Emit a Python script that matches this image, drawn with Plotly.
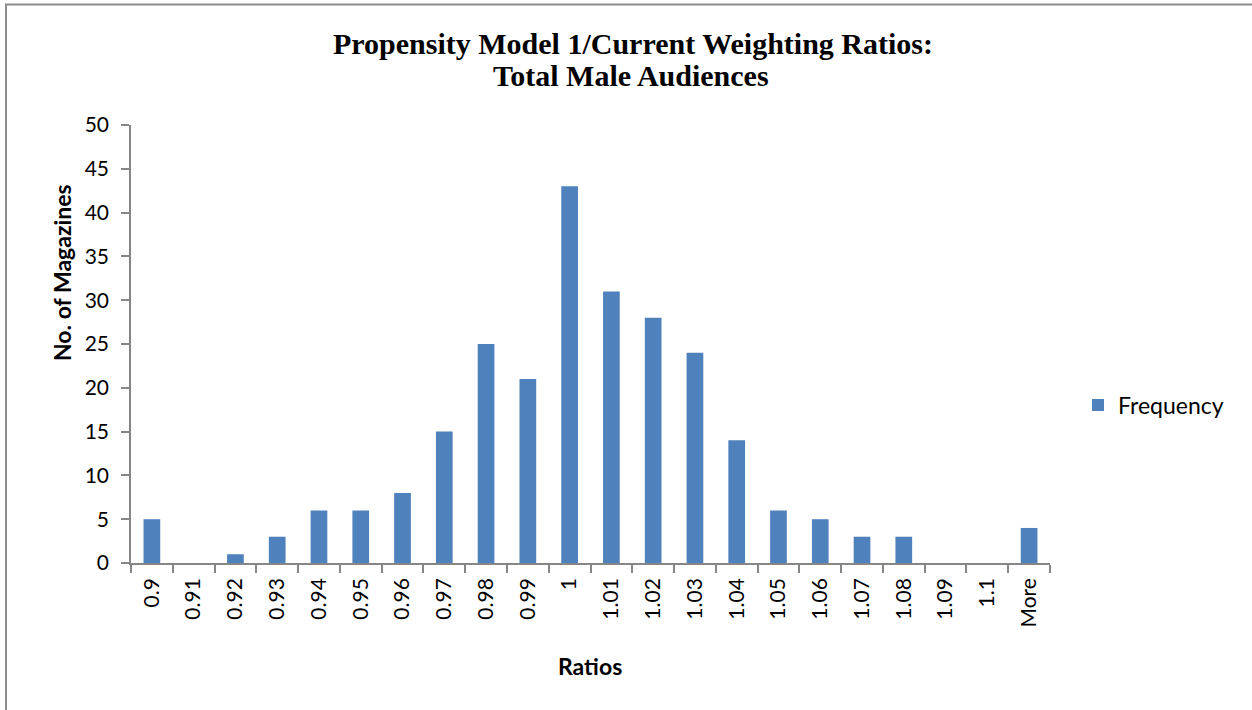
import plotly.graph_objects as go

categories = ["0.9", "0.91", "0.92", "0.93", "0.94", "0.95", "0.96", "0.97", "0.98", "0.99",
              "1", "1.01", "1.02", "1.03", "1.04", "1.05", "1.06", "1.07", "1.08", "1.09",
              "1.1", "More"]
frequency = [5, 0, 1, 3, 6, 6, 8, 15, 25, 21, 43, 31, 28, 24, 14, 6, 5, 3, 3, 0, 0, 4]
y_ticks = [0, 5, 10, 15, 20, 25, 30, 35, 40, 45, 50]

W, H = 1252, 710
# plot area in page pixels
PX0, PX1, PY0, PY1 = 131, 1050, 125, 563
L, T = PX0, PY0
R, B = W - PX1, H - PY1
pw, ph = W - L - R, H - T - B


def px_x(px):
    return (px - L) / pw


def px_y(py):
    return (H - B - py) / ph


SANS = "Lato, Carlito, 'Open Sans', sans-serif"
SERIF = "'Liberation Serif', 'Times New Roman', serif"
AXC = "#868686"

fig = go.Figure()
fig.add_trace(go.Bar(
    x=categories, y=frequency, name="Frequency",
    marker=dict(color="#4F81BD", line=dict(width=0)),
))

fig.update_layout(
    width=W, height=H,
    margin=dict(l=L, r=R, t=T, b=B),
    paper_bgcolor="white", plot_bgcolor="white",
    bargap=0.6,
    showlegend=True,
    legend=dict(x=px_x(1078), y=px_y(405), xanchor="left", yanchor="middle",
                font=dict(family=SANS, size=23, color="black"),
                itemwidth=30),
    xaxis=dict(
        type="category", showgrid=False, showline=True, linecolor=AXC, linewidth=1.5,
        ticks="outside", ticklen=8, tickcolor=AXC, tickwidth=1.5, tickson="boundaries",
        tickangle=-90, tickfont=dict(family=SANS, size=21, color="black"),
        ticklabelstandoff=5,
    ),
    yaxis=dict(
        range=[0, 50], tickvals=y_ticks, showgrid=False, zeroline=False,
        showline=True, linecolor=AXC, linewidth=1.5,
        ticks="outside", ticklen=8, tickcolor=AXC, tickwidth=1.5,
        tickfont=dict(family=SANS, size=21, color="black"),
        ticklabelstandoff=8,
    ),
    annotations=[
        dict(text="<b>Propensity Model 1/Current Weighting Ratios:</b>",
             xref="paper", yref="paper", x=px_x(633), y=px_y(44),
             showarrow=False, xanchor="center", yanchor="middle",
             font=dict(family=SERIF, size=30, color="black")),
        dict(text="<b>Total Male Audiences</b>",
             xref="paper", yref="paper", x=px_x(631), y=px_y(75),
             showarrow=False, xanchor="center", yanchor="middle",
             font=dict(family=SERIF, size=30, color="black")),
        dict(text="<b>No. of Magazines</b>", xref="paper", yref="paper",
             x=px_x(62), y=px_y(273), textangle=-90, showarrow=False,
             xanchor="center", yanchor="middle",
             font=dict(family=SANS, size=23, color="black")),
        dict(text="<b>Ratios</b>", xref="paper", yref="paper",
             x=px_x(590), y=px_y(666), showarrow=False,
             xanchor="center", yanchor="middle",
             font=dict(family=SANS, size=23, color="black")),
    ],
    shapes=[
        dict(type="line", xref="paper", yref="paper",
             x0=px_x(5), x1=px_x(1260), y0=px_y(4.5), y1=px_y(4.5),
             line=dict(color="#8C8C8C", width=2)),
        dict(type="line", xref="paper", yref="paper",
             x0=px_x(6), x1=px_x(6), y0=px_y(4.5), y1=px_y(720),
             line=dict(color="#8C8C8C", width=2)),
    ],
)

fig.write_html(
    "out.html",
    config={"displayModeBar": False},
    post_script="document.body.style.margin='0';document.body.style.overflow='hidden';",
)
